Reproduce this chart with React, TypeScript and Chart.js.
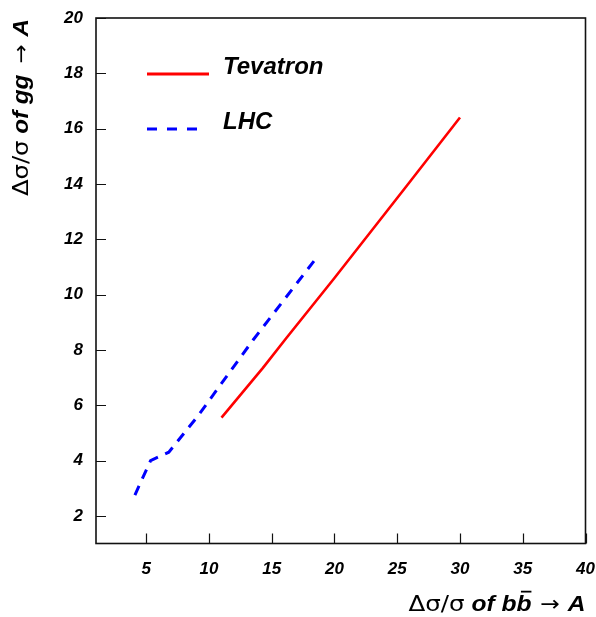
import React, { useEffect, useRef } from "react";
import { Chart, registerables } from "chart.js";

Chart.register(...registerables);

const seriesNames = ["Tevatron", "LHC"];
const tevatronX = [11, 14.3, 16.2, 20, 25.7, 30];
const tevatronY = [5.55, 7.35, 8.45, 10.6, 13.9, 16.4];
const lhcX = [4.1, 5.35, 6.8, 9.1, 13.5, 18.6];
const lhcY = [2.75, 4.0, 4.3, 5.6, 8.35, 11.35];
const xTicks = [5, 10, 15, 20, 25, 30, 35, 40];
const yTicks = [2, 4, 6, 8, 10, 12, 14, 16, 18, 20];

const FAM = "'Liberation Sans', Arial, sans-serif";
const BI = (s: number) => `italic bold ${s}px ${FAM}`;
const SY = (s: number) => `${s}px 'DejaVu Sans', sans-serif`;

type Seg = { t: string; f: string; bar?: boolean; gap?: number };

function drawSegs(ctx: CanvasRenderingContext2D, segs: Seg[], xEnd: number, y: number, size: number, target: number) {
  let total = 0;
  for (const s of segs) {
    ctx.font = s.f;
    total += ctx.measureText(s.t).width + (s.gap || 0);
  }
  const k = target / total;
  ctx.save();
  ctx.translate(xEnd - target, y);
  ctx.scale(k, 1);
  let x = 0;
  ctx.textAlign = "left";
  ctx.textBaseline = "alphabetic";
  for (const s of segs) {
    x += s.gap || 0;
    ctx.font = s.f;
    const w = ctx.measureText(s.t).width;
    ctx.fillText(s.t, x, 0);
    if (s.bar) {
      ctx.lineWidth = 1.8;
      ctx.beginPath();
      ctx.moveTo(x + w * 0.3, -size * 0.88);
      ctx.lineTo(x + w * 1.0, -size * 0.88);
      ctx.stroke();
    }
    x += w;
  }
  ctx.restore();
}

const decorPlugin = {
  id: "decor",
  afterDraw(chart: any) {
    const ctx: CanvasRenderingContext2D = chart.ctx;
    const a = chart.chartArea;
    const xs = chart.scales.x;
    const ys = chart.scales.y;
    ctx.save();
    ctx.strokeStyle = "#111";
    ctx.fillStyle = "#000";
    // frame
    ctx.lineWidth = 1.6;
    ctx.strokeRect(a.left, a.top, a.right - a.left, a.bottom - a.top);
    // inner ticks
    ctx.lineWidth = 1.2;
    ctx.beginPath();
    for (const v of xTicks) {
      const px = Math.round(xs.getPixelForValue(v)) + 0.5;
      ctx.moveTo(px, a.bottom);
      ctx.lineTo(px, a.bottom - 10);
    }
    for (const v of yTicks) {
      const py = Math.round(ys.getPixelForValue(v)) + 0.5;
      ctx.moveTo(a.left, py);
      ctx.lineTo(a.left + 10, py);
    }
    ctx.stroke();

    // legend
    ctx.lineWidth = 3;
    ctx.strokeStyle = "#ff0000";
    ctx.beginPath();
    ctx.moveTo(147, 74);
    ctx.lineTo(209, 74);
    ctx.stroke();
    ctx.strokeStyle = "#0000ff";
    ctx.setLineDash([10, 10]);
    ctx.beginPath();
    ctx.moveTo(147, 129);
    ctx.lineTo(200, 129);
    ctx.stroke();
    ctx.setLineDash([]);
    ctx.fillStyle = "#000";
    ctx.font = BI(24);
    ctx.textAlign = "left";
    ctx.textBaseline = "alphabetic";
    ctx.fillText(seriesNames[0], 223, 74);
    ctx.fillText(seriesNames[1], 223, 129);

    // axis titles
    ctx.strokeStyle = "#000";
    drawSegs(
      ctx,
      [
        { t: "Δσ/σ", f: SY(22) },
        { t: " of b", f: BI(22) },
        { t: "b", f: BI(22), bar: true },
        { t: "→", f: SY(21), gap: 8 },
        { t: "A", f: BI(22), gap: 7 },
      ],
      a.right,
      611,
      22,
      177
    );
    ctx.save();
    ctx.translate(28, a.top + 1);
    ctx.rotate(-Math.PI / 2);
    drawSegs(
      ctx,
      [
        { t: "Δσ/σ", f: SY(22) },
        { t: " of gg", f: BI(22) },
        { t: "→", f: SY(21), gap: 10 },
        { t: "A", f: BI(22), gap: 7 },
      ],
      0,
      0,
      22,
      177
    );
    ctx.restore();
    ctx.restore();
  },
};

export default function App() {
  const ref = useRef<HTMLCanvasElement | null>(null);
  useEffect(() => {
    document.body.style.margin = "0";
    if (!ref.current) return;
    const chart = new Chart(ref.current, {
      type: "line",
      data: {
        datasets: [
          {
            label: seriesNames[0],
            data: tevatronX.map((x, i) => ({ x, y: tevatronY[i] })),
            borderColor: "#ff0000",
            borderWidth: 2.6,
            pointRadius: 0,
            fill: false,
            tension: 0,
          },
          {
            label: seriesNames[1],
            data: lhcX.map((x, i) => ({ x, y: lhcY[i] })),
            borderColor: "#0000ff",
            borderWidth: 3,
            borderDash: [10, 8],
            pointRadius: 0,
            fill: false,
            tension: 0,
          },
        ],
      },
      options: {
        responsive: false,
        animation: false,
        layout: { padding: { top: 18, right: 10.5, left: 0, bottom: 0 } },
        plugins: { legend: { display: false }, tooltip: { enabled: false } },
        scales: {
          x: {
            type: "linear",
            min: 1,
            max: 40,
            grid: { display: false, drawTicks: false },
            border: { display: false },
            afterBuildTicks: (s: any) => {
              s.ticks = xTicks.map((v) => ({ value: v }));
            },
            afterFit: (s: any) => {
              s.height = 73.5;
              s.paddingRight = 0;
              s.paddingLeft = 0;
            },
            ticks: {
              padding: 16,
              color: "#000",
              font: { family: FAM, size: 17, style: "italic", weight: "bold" },
              maxRotation: 0,
              autoSkip: false,
              callback: (v: any) => String(v),
            },
          },
          y: {
            type: "linear",
            min: 1,
            max: 20,
            grid: { display: false, drawTicks: false },
            border: { display: false },
            afterBuildTicks: (s: any) => {
              s.ticks = yTicks.map((v) => ({ value: v }));
            },
            afterFit: (s: any) => {
              s.width = 96;
              s.paddingTop = 0;
              s.paddingBottom = 0;
            },
            ticks: {
              padding: 13,
              color: "#000",
              font: { family: FAM, size: 17, style: "italic", weight: "bold" },
              autoSkip: false,
              callback: (v: any) => String(v),
            },
          },
        },
      },
      plugins: [decorPlugin],
    } as any);
    return () => chart.destroy();
  }, []);
  return <canvas ref={ref} width={596} height={617} style={{ display: "block" }} />;
}
